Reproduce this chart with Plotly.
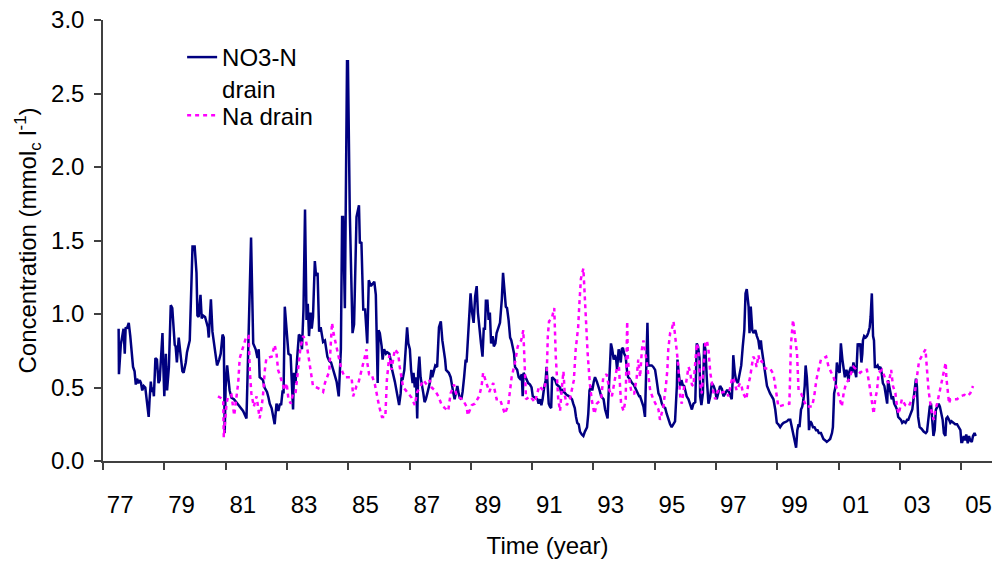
import plotly.graph_objects as go

# ---------------- data ----------------
no3_year = [
    1976.95, 1976.96, 1977.02, 1977.07, 1977.11, 1977.15, 1977.18, 1977.22, 1977.28, 1977.33,
    1977.38, 1977.42, 1977.47, 1977.51, 1977.55, 1977.59, 1977.64, 1977.68, 1977.72, 1977.77,
    1977.82, 1977.86, 1977.90, 1977.93, 1977.96, 1978.00, 1978.03, 1978.07, 1978.10, 1978.15,
    1978.20, 1978.25, 1978.29, 1978.35, 1978.38, 1978.41, 1978.44, 1978.49, 1978.53, 1978.59,
    1978.65, 1978.70, 1978.78, 1978.81, 1978.85, 1978.91, 1978.97, 1979.03, 1979.07, 1979.14,
    1979.18, 1979.27, 1979.36, 1979.43, 1979.49, 1979.52, 1979.56, 1979.62, 1979.66, 1979.70,
    1979.77, 1979.81, 1979.86, 1979.89, 1979.92, 1979.96, 1980.01, 1980.06, 1980.12, 1980.16,
    1980.23, 1980.28, 1980.34, 1980.38, 1980.41, 1980.44, 1980.49, 1980.53, 1980.57, 1980.63,
    1980.71, 1980.79, 1980.90, 1981.01, 1981.12, 1981.27, 1981.34, 1981.42, 1981.48, 1981.52,
    1981.55, 1981.62, 1981.66, 1981.71, 1981.75, 1981.79, 1981.84, 1981.88, 1981.94, 1981.99,
    1982.04, 1982.10, 1982.16, 1982.21, 1982.25, 1982.30, 1982.33, 1982.37, 1982.43, 1982.49,
    1982.56, 1982.60, 1982.64, 1982.67, 1982.72, 1982.77, 1982.83, 1982.88, 1982.93, 1982.98,
    1983.03, 1983.08, 1983.12, 1983.16, 1983.21, 1983.25, 1983.29, 1983.35, 1983.39, 1983.44,
    1983.49, 1983.54, 1983.58, 1983.62, 1983.68, 1983.72, 1983.76, 1983.82, 1983.88, 1983.95,
    1984.00, 1984.06, 1984.13, 1984.20, 1984.24, 1984.27, 1984.33, 1984.40, 1984.43, 1984.49,
    1984.58, 1984.63, 1984.71, 1984.79, 1984.82, 1984.87, 1984.93, 1984.99, 1985.06, 1985.11,
    1985.18, 1985.29, 1985.34, 1985.40, 1985.43, 1985.47, 1985.53, 1985.56, 1985.61, 1985.67,
    1985.71, 1985.78, 1985.82, 1985.85, 1985.96, 1986.02, 1986.07, 1986.10, 1986.15, 1986.18,
    1986.21, 1986.27, 1986.32, 1986.36, 1986.40, 1986.45, 1986.49, 1986.54, 1986.57, 1986.61,
    1986.65, 1986.69, 1986.72, 1986.76, 1986.80, 1986.84, 1986.89, 1986.93, 1986.97, 1987.02,
    1987.06, 1987.10, 1987.15, 1987.18, 1987.28, 1987.34, 1987.40, 1987.46, 1987.51, 1987.56,
    1987.60, 1987.63, 1987.72, 1987.78, 1987.82, 1987.87, 1987.91, 1987.95, 1988.00, 1988.04,
    1988.08, 1988.13, 1988.17, 1988.22, 1988.27, 1988.30, 1988.35, 1988.39, 1988.43, 1988.48,
    1988.53, 1988.58, 1988.63, 1988.67, 1988.71, 1988.77, 1988.82, 1988.86, 1988.90, 1988.93,
    1988.98, 1989.02, 1989.06, 1989.10, 1989.15, 1989.19, 1989.24, 1989.28, 1989.39, 1989.45,
    1989.49, 1989.53, 1989.58, 1989.62, 1989.67, 1989.72, 1989.76, 1989.80, 1989.85, 1989.88,
    1989.95, 1990.00, 1990.04, 1990.10, 1990.13, 1990.16, 1990.26, 1990.31, 1990.37, 1990.42,
    1990.46, 1990.56, 1990.61, 1990.65, 1990.70, 1990.74, 1990.78, 1990.83, 1990.88, 1990.91,
    1990.98, 1991.02, 1991.06, 1991.09, 1991.19, 1991.24, 1991.35, 1991.39, 1991.43, 1991.52,
    1991.56, 1991.65, 1991.70, 1991.74, 1991.78, 1991.83, 1991.87, 1991.91, 1991.96, 1992.00,
    1992.06, 1992.11, 1992.16, 1992.23, 1992.27, 1992.31, 1992.36, 1992.40, 1992.45, 1992.49,
    1992.55, 1992.60, 1992.64, 1992.69, 1992.77, 1992.82, 1992.86, 1992.90, 1992.92, 1992.97,
    1993.01, 1993.05, 1993.10, 1993.14, 1993.18, 1993.21, 1993.26, 1993.29, 1993.33, 1993.36,
    1993.40, 1993.44, 1993.49, 1993.53, 1993.57, 1993.62, 1993.66, 1993.70, 1993.75, 1993.80,
    1993.84, 1993.88, 1993.93, 1993.96, 1994.07, 1994.12, 1994.16, 1994.20, 1994.23, 1994.29,
    1994.34, 1994.39, 1994.45, 1994.50, 1994.56, 1994.61, 1994.67, 1994.72, 1994.78, 1994.83,
    1994.88, 1994.94, 1994.99, 1995.05, 1995.10, 1995.16, 1995.18, 1995.22, 1995.27, 1995.31,
    1995.35, 1995.40, 1995.44, 1995.48, 1995.54, 1995.59, 1995.65, 1995.70, 1995.76, 1995.81,
    1995.85, 1995.90, 1995.92, 1995.96, 1996.01, 1996.05, 1996.09, 1996.14, 1996.19, 1996.25,
    1996.30, 1996.36, 1996.41, 1996.46, 1996.52, 1996.57, 1996.63, 1996.68, 1996.74, 1996.79,
    1996.84, 1996.90, 1996.95, 1996.98, 1997.00, 1997.05, 1997.09, 1997.15, 1997.20, 1997.26,
    1997.31, 1997.36, 1997.40, 1997.44, 1997.50, 1997.53, 1997.57, 1997.62, 1997.66, 1997.72,
    1997.77, 1997.82, 1997.86, 1997.90, 1997.93, 1997.99, 1998.04, 1998.10, 1998.20, 1998.31,
    1998.37, 1998.42, 1998.47, 1998.53, 1998.59, 1998.64, 1998.75, 1998.80, 1998.86, 1998.91,
    1998.97, 1999.02, 1999.05, 1999.09, 1999.13, 1999.16, 1999.21, 1999.25, 1999.29, 1999.33,
    1999.36, 1999.40, 1999.44, 1999.47, 1999.51, 1999.55, 1999.60, 1999.65, 1999.70, 1999.75,
    1999.79, 1999.86, 1999.90, 1999.94, 2000.00, 2000.05, 2000.11, 2000.16, 2000.22, 2000.25,
    2000.29, 2000.34, 2000.38, 2000.42, 2000.47, 2000.51, 2000.56, 2000.60, 2000.64, 2000.69,
    2000.73, 2000.76, 2000.79, 2000.84, 2000.88, 2000.92, 2000.97, 2001.01, 2001.06, 2001.10,
    2001.14, 2001.18, 2001.21, 2001.23, 2001.27, 2001.32, 2001.36, 2001.40, 2001.45, 2001.48,
    2001.52, 2001.56, 2001.59, 2001.62, 2001.67, 2001.71, 2001.75, 2001.80, 2001.84, 2001.88,
    2001.93, 2001.97, 2002.02, 2002.05, 2002.08, 2002.12, 2002.17, 2002.21, 2002.25, 2002.30,
    2002.34, 2002.38, 2002.43, 2002.47, 2002.51, 2002.56, 2002.62, 2002.67, 2002.71, 2002.75,
    2002.80, 2002.84, 2002.88, 2002.93, 2002.96, 2002.99, 2003.03, 2003.08, 2003.14, 2003.21,
    2003.28, 2003.32, 2003.36, 2003.41, 2003.45, 2003.49, 2003.53, 2003.57, 2003.61, 2003.66,
    2003.70, 2003.74, 2003.79, 2003.83, 2003.87, 2003.92, 2003.95, 2003.99, 2004.04, 2004.08,
    2004.12, 2004.19, 2004.24, 2004.30, 2004.35, 2004.41, 2004.44, 2004.47, 2004.52, 2004.56,
    2004.60, 2004.65, 2004.69, 2004.73, 2004.78, 2004.82, 2004.87, 2004.91,
]
no3_value = [
    0.90, 0.59, 0.79, 0.87, 0.90, 0.73, 0.91, 0.90, 0.94, 0.85,
    0.69, 0.64, 0.61, 0.52, 0.56, 0.53, 0.55, 0.53, 0.48, 0.51,
    0.50, 0.44, 0.35, 0.30, 0.42, 0.54, 0.47, 0.50, 0.44, 0.70,
    0.69, 0.53, 0.55, 0.80, 0.87, 0.63, 0.44, 0.73, 0.48, 0.64,
    1.06, 1.04, 0.79, 0.78, 0.67, 0.84, 0.74, 0.61, 0.60, 0.67,
    0.74, 0.82, 1.46, 1.46, 1.28, 0.99, 0.98, 1.13, 0.97, 0.99,
    0.98, 0.95, 0.91, 0.84, 0.96, 1.10, 0.88, 0.81, 0.73, 0.65,
    0.69, 0.73, 0.86, 0.84, 0.19, 0.50, 0.65, 0.57, 0.48, 0.43,
    0.42, 0.40, 0.37, 0.34, 0.29, 1.52, 0.80, 0.76, 0.70, 0.76,
    0.57, 0.56, 0.55, 0.50, 0.48, 0.47, 0.43, 0.39, 0.36, 0.31,
    0.25, 0.39, 0.34, 0.39, 0.38, 0.48, 0.46, 1.05, 0.91, 0.73,
    0.72, 0.53, 0.35, 0.60, 0.53, 0.69, 0.86, 0.85, 0.76, 1.03,
    1.71, 0.96, 1.07, 0.85, 1.01, 0.90, 0.98, 1.36, 1.26, 1.28,
    0.88, 0.91, 0.85, 0.81, 0.82, 0.77, 0.71, 0.68, 0.67, 0.62,
    0.59, 0.54, 0.44, 0.76, 1.66, 1.66, 1.04, 2.72, 2.72, 1.70,
    0.87, 0.93, 1.66, 1.74, 1.48, 1.49, 1.03, 1.03, 0.80, 1.23,
    1.19, 1.22, 1.13, 0.53, 0.89, 0.87, 0.78, 0.69, 0.76, 0.73,
    0.74, 0.73, 0.69, 0.64, 0.54, 0.46, 0.42, 0.38, 0.46, 0.57,
    0.55, 0.62, 0.78, 0.91, 0.80, 0.76, 0.62, 0.53, 0.60, 0.50,
    0.57, 0.29, 0.60, 0.71, 0.57, 0.53, 0.46, 0.40, 0.42, 0.46,
    0.50, 0.53, 0.62, 0.57, 0.65, 0.64, 0.91, 0.95, 0.82, 0.76,
    0.69, 0.62, 0.60, 0.57, 0.51, 0.46, 0.42, 0.47, 0.51, 0.46,
    0.43, 0.42, 0.47, 0.57, 0.69, 0.67, 0.87, 1.03, 1.14, 1.01,
    0.94, 1.12, 1.19, 1.01, 0.91, 0.80, 0.71, 0.90, 0.90, 1.09,
    1.09, 0.96, 1.01, 0.80, 0.85, 0.78, 0.80, 0.87, 0.94, 1.10,
    1.28, 1.19, 1.05, 1.04, 0.96, 0.84, 0.82, 0.78, 0.73, 0.64,
    0.62, 0.57, 0.56, 0.59, 0.44, 0.60, 0.55, 0.53, 0.52, 0.50,
    0.44, 0.43, 0.42, 0.39, 0.42, 0.38, 0.42, 0.50, 0.55, 0.64,
    0.39, 0.37, 0.36, 0.57, 0.55, 0.52, 0.50, 0.46, 0.48, 0.46,
    0.45, 0.44, 0.43, 0.42, 0.39, 0.36, 0.30, 0.26, 0.25, 0.20,
    0.18, 0.17, 0.20, 0.23, 0.32, 0.48, 0.51, 0.48, 0.54, 0.57,
    0.54, 0.51, 0.48, 0.44, 0.42, 0.35, 0.31, 0.29, 0.39, 0.57,
    0.80, 0.76, 0.69, 0.72, 0.69, 0.62, 0.76, 0.73, 0.67, 0.76,
    0.77, 0.73, 0.71, 0.62, 0.57, 0.56, 0.54, 0.53, 0.52, 0.50,
    0.48, 0.47, 0.44, 0.44, 0.37, 0.30, 0.64, 0.94, 0.65, 0.65,
    0.65, 0.64, 0.62, 0.55, 0.46, 0.44, 0.39, 0.37, 0.36, 0.32,
    0.28, 0.25, 0.23, 0.25, 0.27, 0.51, 0.69, 0.60, 0.51, 0.55,
    0.52, 0.51, 0.46, 0.44, 0.42, 0.39, 0.35, 0.39, 0.40, 0.80,
    0.78, 0.70, 0.44, 0.38, 0.46, 0.80, 0.76, 0.55, 0.39, 0.44,
    0.53, 0.51, 0.48, 0.42, 0.46, 0.51, 0.49, 0.44, 0.46, 0.48,
    0.48, 0.44, 0.42, 0.55, 0.72, 0.60, 0.55, 0.53, 0.60, 0.65,
    0.78, 0.89, 1.14, 1.17, 1.05, 0.87, 1.05, 0.89, 0.87, 0.89,
    0.85, 0.82, 0.76, 0.82, 0.76, 0.66, 0.57, 0.51, 0.46, 0.42,
    0.35, 0.26, 0.25, 0.23, 0.25, 0.26, 0.27, 0.28, 0.28, 0.23,
    0.17, 0.13, 0.09, 0.21, 0.25, 0.23, 0.35, 0.37, 0.42, 0.51,
    0.65, 0.57, 0.42, 0.21, 0.27, 0.26, 0.23, 0.23, 0.21, 0.21,
    0.19, 0.19, 0.17, 0.15, 0.14, 0.13, 0.14, 0.15, 0.19, 0.23,
    0.46, 0.51, 0.67, 0.62, 0.60, 0.80, 0.69, 0.62, 0.57, 0.62,
    0.59, 0.54, 0.61, 0.64, 0.60, 0.67, 0.62, 0.57, 0.80, 0.78,
    0.80, 0.67, 0.73, 0.82, 0.85, 0.84, 0.85, 0.87, 0.91, 0.98,
    1.14, 0.85, 0.82, 0.64, 0.64, 0.65, 0.63, 0.64, 0.60, 0.53,
    0.51, 0.46, 0.39, 0.55, 0.51, 0.46, 0.42, 0.44, 0.39, 0.37,
    0.35, 0.30, 0.29, 0.28, 0.26, 0.27, 0.26, 0.28, 0.28, 0.30,
    0.32, 0.35, 0.42, 0.51, 0.56, 0.51, 0.30, 0.23, 0.22, 0.20,
    0.19, 0.20, 0.30, 0.37, 0.39, 0.30, 0.17, 0.21, 0.35, 0.37,
    0.39, 0.37, 0.32, 0.28, 0.19, 0.17, 0.29, 0.30, 0.28, 0.26,
    0.27, 0.26, 0.25, 0.25, 0.23, 0.21, 0.13, 0.13, 0.17, 0.14,
    0.18, 0.12, 0.17, 0.14, 0.13, 0.17, 0.19, 0.17,
]

na_year = [
    1980.19, 1980.36, 1980.38, 1980.47, 1980.52, 1980.63, 1980.72, 1980.79, 1980.85, 1980.90,
    1981.01, 1981.12, 1981.19, 1981.23, 1981.28, 1981.36, 1981.45, 1981.55, 1981.61, 1981.66,
    1981.72, 1981.77, 1981.94, 1982.04, 1982.10, 1982.15, 1982.23, 1982.30, 1982.37, 1982.43,
    1982.49, 1982.57, 1982.64, 1982.72, 1982.77, 1982.84, 1982.88, 1982.97, 1983.06, 1983.13,
    1983.19, 1983.24, 1983.29, 1983.41, 1983.51, 1983.62, 1983.68, 1983.82, 1983.86, 1983.91,
    1983.97, 1984.04, 1984.11, 1984.22, 1984.33, 1984.44, 1984.55, 1984.60, 1984.71, 1984.76,
    1984.88, 1985.04, 1985.06, 1985.12, 1985.20, 1985.31, 1985.45, 1985.54, 1985.65, 1985.70,
    1985.78, 1985.85, 1985.96, 1986.07, 1986.12, 1986.18, 1986.23, 1986.32, 1986.40, 1986.51,
    1986.61, 1986.69, 1986.78, 1986.89, 1987.00, 1987.10, 1987.16, 1987.27, 1987.38, 1987.49,
    1987.59, 1987.70, 1987.78, 1987.89, 1987.98, 1988.08, 1988.17, 1988.30, 1988.34, 1988.47,
    1988.57, 1988.71, 1988.79, 1988.84, 1988.91, 1988.98, 1989.04, 1989.12, 1989.17, 1989.28,
    1989.39, 1989.55, 1989.66, 1989.77, 1989.88, 1989.97, 1990.08, 1990.15, 1990.18, 1990.21,
    1990.24, 1990.37, 1990.53, 1990.67, 1990.80, 1990.91, 1990.95, 1990.99, 1991.08, 1991.16,
    1991.19, 1991.21, 1991.29, 1991.35, 1991.40, 1991.46, 1991.51, 1991.57, 1991.67, 1991.73,
    1991.80, 1991.86, 1991.94, 1991.98, 1992.03, 1992.11, 1992.16, 1992.21, 1992.25, 1992.32,
    1992.38, 1992.47, 1992.55, 1992.69, 1992.76, 1992.87, 1992.96, 1993.04, 1993.14, 1993.21,
    1993.27, 1993.34, 1993.42, 1993.49, 1993.54, 1993.56, 1993.62, 1993.69, 1993.77, 1993.85,
    1993.90, 1993.96, 1994.02, 1994.07, 1994.18, 1994.23, 1994.29, 1994.39, 1994.56, 1994.61,
    1994.67, 1994.72, 1994.81, 1994.85, 1994.88, 1994.94, 1994.99, 1995.05, 1995.10, 1995.16,
    1995.21, 1995.24, 1995.27, 1995.32, 1995.40, 1995.46, 1995.54, 1995.59, 1995.65, 1995.70,
    1995.76, 1995.81, 1995.86, 1995.90, 1995.92, 1995.97, 1996.03, 1996.09, 1996.14, 1996.19,
    1996.25, 1996.30, 1996.36, 1996.41, 1996.46, 1996.52, 1996.57, 1996.68, 1996.79, 1996.84,
    1996.90, 1996.95, 1997.00, 1997.06, 1997.11, 1997.22, 1997.27, 1997.32, 1997.38, 1997.43,
    1997.48, 1997.55, 1997.60, 1997.65, 1997.71, 1997.76, 1997.82, 1997.87, 1997.93, 1998.04,
    1998.20, 1998.31, 1998.37, 1998.42, 1998.47, 1998.63, 1998.83, 1998.86, 1998.88, 1998.95,
    1999.01, 1999.08, 1999.13, 1999.21, 1999.29, 1999.38, 1999.46, 1999.57, 1999.64, 1999.71,
    1999.78, 1999.86, 1999.95, 2000.03, 2000.11, 2000.16, 2000.27, 2000.33, 2000.43, 2000.54,
    2000.60, 2000.68, 2000.76, 2000.84, 2000.92, 2001.03, 2001.14, 2001.25, 2001.36, 2001.47,
    2001.53, 2001.58, 2001.63, 2001.69, 2001.74, 2001.85, 2001.96, 2002.07, 2002.15, 2002.21,
    2002.29, 2002.34, 2002.40, 2002.50, 2002.61, 2002.72, 2002.83, 2002.91, 2002.99, 2003.06,
    2003.14, 2003.21, 2003.27, 2003.32, 2003.37, 2003.43, 2003.48, 2003.54, 2003.59, 2003.65,
    2003.76, 2003.84, 2003.93, 2003.95, 2004.00, 2004.04, 2004.08, 2004.19, 2004.30, 2004.41,
    2004.54, 2004.63, 2004.73, 2004.82,
]
na_value = [
    0.44, 0.42, 0.16, 0.39, 0.44, 0.45, 0.31, 0.44, 0.53, 0.70,
    0.78, 0.85, 0.85, 0.61, 0.46, 0.37, 0.44, 0.29, 0.36, 0.45,
    0.62, 0.70, 0.71, 0.79, 0.73, 0.62, 0.57, 0.53, 0.48, 0.53,
    0.42, 0.39, 0.46, 0.46, 0.57, 0.69, 0.77, 0.85, 0.82, 0.73,
    0.65, 0.57, 0.51, 0.50, 0.49, 0.47, 0.53, 0.61, 0.73, 0.94,
    0.86, 0.79, 0.71, 0.62, 0.57, 0.57, 0.57, 0.44, 0.51, 0.52,
    0.62, 0.76, 0.67, 0.59, 0.59, 0.52, 0.37, 0.30, 0.30, 0.55,
    0.72, 0.62, 0.76, 0.73, 0.64, 0.56, 0.50, 0.48, 0.46, 0.43,
    0.38, 0.47, 0.50, 0.55, 0.52, 0.55, 0.50, 0.48, 0.44, 0.38,
    0.36, 0.34, 0.46, 0.52, 0.44, 0.43, 0.42, 0.37, 0.31, 0.38,
    0.39, 0.44, 0.51, 0.60, 0.55, 0.51, 0.47, 0.51, 0.53, 0.42,
    0.42, 0.32, 0.38, 0.57, 0.67, 0.78, 0.82, 0.89, 0.69, 0.48,
    0.42, 0.44, 0.40, 0.51, 0.48, 0.55, 0.85, 0.95, 0.97, 1.04,
    0.78, 0.71, 0.42, 0.34, 0.48, 0.61, 0.44, 0.38, 0.42, 0.48,
    0.55, 0.76, 0.91, 1.07, 1.24, 1.31, 1.10, 0.87, 0.73, 0.53,
    0.42, 0.32, 0.39, 0.42, 0.57, 0.59, 0.48, 0.44, 0.56, 0.64,
    0.64, 0.39, 0.34, 0.42, 0.95, 0.71, 0.53, 0.46, 0.46, 0.57,
    0.69, 0.57, 0.76, 0.82, 0.67, 0.57, 0.48, 0.42, 0.35, 0.28,
    0.34, 0.37, 0.53, 0.62, 0.76, 0.87, 0.89, 0.95, 0.86, 0.76,
    0.64, 0.53, 0.44, 0.39, 0.51, 0.53, 0.64, 0.61, 0.52, 0.51,
    0.64, 0.80, 0.76, 0.64, 0.53, 0.46, 0.62, 0.80, 0.82, 0.76,
    0.60, 0.53, 0.46, 0.42, 0.46, 0.48, 0.46, 0.47, 0.47, 0.44,
    0.50, 0.55, 0.57, 0.52, 0.48, 0.53, 0.51, 0.46, 0.44, 0.42,
    0.51, 0.57, 0.64, 0.71, 0.69, 0.64, 0.72, 0.67, 0.68, 0.63,
    0.63, 0.59, 0.51, 0.43, 0.37, 0.38, 0.39, 0.62, 0.79, 0.96,
    0.87, 0.73, 0.48, 0.46, 0.42, 0.37, 0.37, 0.37, 0.44, 0.55,
    0.62, 0.69, 0.70, 0.71, 0.64, 0.62, 0.57, 0.53, 0.46, 0.37,
    0.46, 0.53, 0.55, 0.60, 0.64, 0.62, 0.60, 0.62, 0.62, 0.48,
    0.37, 0.32, 0.42, 0.48, 0.60, 0.62, 0.56, 0.53, 0.62, 0.51,
    0.46, 0.37, 0.32, 0.42, 0.38, 0.37, 0.42, 0.44, 0.57, 0.68,
    0.71, 0.74, 0.76, 0.62, 0.48, 0.39, 0.32, 0.28, 0.35, 0.39,
    0.50, 0.60, 0.67, 0.57, 0.46, 0.39, 0.42, 0.42, 0.42, 0.44,
    0.45, 0.44, 0.46, 0.51,
]

x_tick_text = ["77", "79", "81", "83", "85", "87", "89", "91", "93", "95",
               "97", "99", "01", "03", "05"]
x_label_years = [1977 + 2 * i for i in range(len(x_tick_text))]

# ---------------- styling ----------------
FONT = "Liberation Sans, Arial, sans-serif"
FS = 24
AXIS_COLOR = "#404040"
x_range = [1976.44, 2005.44]
tick_offset = x_range[0] - x_label_years[0]   # tick marks sit left of labels
x_tick_marks = [v + tick_offset for v in x_label_years]

fig = go.Figure()
fig.add_trace(go.Scatter(
    x=no3_year, y=no3_value, mode="lines", name="NO3-N<br>drain",
    line=dict(color="#000080", width=2.5), legend="legend",
))
fig.add_trace(go.Scatter(
    x=na_year, y=na_value, mode="lines", name="Na drain",
    line=dict(color="#FF00FF", width=2.5, dash="4px,4px"), legend="legend2",
))

legend_style = dict(
    xanchor="left", yanchor="top",
    bgcolor="rgba(0,0,0,0)", borderwidth=0,
    font=dict(family=FONT, size=FS, color="black"),
    valign="top", itemwidth=30,
)

fig.update_layout(
    width=999, height=567,
    margin=dict(l=103, r=7, t=20, b=106),
    paper_bgcolor="white", plot_bgcolor="white",
    font=dict(family=FONT, size=FS, color="black"),
    showlegend=True,
    legend=dict(x=0.089, y=0.966, **legend_style),
    legend2=dict(x=0.089, y=0.834, **legend_style),
    xaxis=dict(
        range=x_range, showgrid=False, zeroline=False,
        showline=True, linecolor=AXIS_COLOR, linewidth=1.5,
        tickmode="array", tickvals=x_label_years, ticktext=x_tick_text,
        ticks="", ticklabelstandoff=21,
        tickfont=dict(family=FONT, size=FS, color="black"),
        minor=dict(tickmode="array", tickvals=x_tick_marks, ticks="outside",
                   ticklen=7, tickcolor=AXIS_COLOR, tickwidth=1.5, showgrid=False),
        title=dict(text="Time (year)", font=dict(family=FONT, size=FS), standoff=21),
    ),
    yaxis=dict(
        range=[0, 3], dtick=0.5, tick0=0, tickformat=".1f",
        showgrid=False, zeroline=False,
        showline=True, linecolor=AXIS_COLOR, linewidth=1.5,
        ticks="outside", ticklen=7, tickcolor=AXIS_COLOR, tickwidth=1.5,
        ticklabelstandoff=5,
        tickfont=dict(family=FONT, size=FS, color="black"),
        title=dict(text="Concentration (mmol<sub>c</sub> l<sup>-1</sup>)",
                   font=dict(family=FONT, size=FS), standoff=8),
    ),
)

fig.write_html("out.html")
